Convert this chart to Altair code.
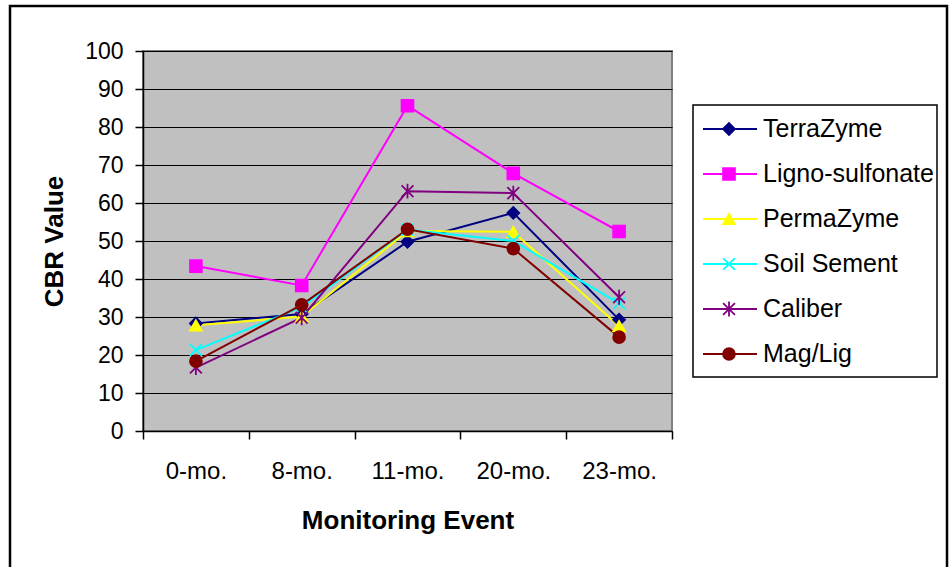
import altair as alt
import pandas as pd

# ---- data ----
events = ["0-mo.", "8-mo.", "11-mo.", "20-mo.", "23-mo."]
series_names = ["TerraZyme", "Ligno-sulfonate", "PermaZyme", "Soil Sement", "Caliber", "Mag/Lig"]
terrazyme = [28.3, 30.8, 49.8, 57.4, 29.3]
ligno = [43.4, 38.3, 85.6, 67.8, 52.5]
permazyme = [27.8, 30.1, 52.6, 52.4, 27.6]
soil_sement = [21.3, 32.6, 53.0, 50.0, 33.6]
caliber = [16.7, 29.8, 63.1, 62.6, 35.2]
mag_lig = [18.4, 33.2, 53.1, 48.0, 24.7]
y_ticks = [0, 10, 20, 30, 40, 50, 60, 70, 80, 90, 100]

# ---- styles ----
colors = ["#000080", "#FF00FF", "#FFFF00", "#00FFFF", "#800080", "#800000"]
X_PATH = "M-1,-1L1,1M-1,1L1,-1"
STAR_PATH = "M-1,-1L1,1M-1,1L1,-1M0,-1.25L0,1.25"
shapes = ["diamond", "square", "triangle-up", X_PATH, STAR_PATH, "circle"]
fills = ["#000080", "#FF00FF", "#FFFF00", "transparent", "transparent", "#800000"]
FONT = "Liberation Sans"

all_vals = [terrazyme, ligno, permazyme, soil_sement, caliber, mag_lig]
rows = []
for name, vals in zip(series_names, all_vals):
    for ev, v in zip(events, vals):
        rows.append({"series": name, "event": ev, "cbr": v})
df = pd.DataFrame(rows)
legend_df = pd.DataFrame({"series": series_names})
one_df = pd.DataFrame({"k": [0]})

color_scale = alt.Scale(domain=series_names, range=colors)
shape_scale = alt.Scale(domain=series_names, range=shapes)
fill_scale = alt.Scale(domain=series_names, range=fills)

x_enc = alt.X(
    "event:N",
    sort=events,
    bandPosition=0.5,
    scale=alt.Scale(type="band", domain=events, paddingInner=0, paddingOuter=0),
    axis=alt.Axis(
        title="Monitoring Event",
        tickBand="extent",
        labelAngle=0,
        labelFont=FONT,
        labelFontSize=24,
        labelColor="black",
        labelPadding=20,
        tickSize=8,
        tickColor="black",
        tickWidth=1.5,
        domainColor="black",
        domainWidth=1.5,
        titleFont=FONT,
        titleFontSize=26,
        titleFontWeight="bold",
        titleColor="black",
        titlePadding=24,
        grid=False,
    ),
)
y_enc = alt.Y(
    "cbr:Q",
    scale=alt.Scale(domain=[0, 100], nice=False),
    axis=alt.Axis(
        title="CBR Value",
        values=y_ticks,
        labelFont=FONT,
        labelFontSize=23,
        labelColor="black",
        labelPadding=12,
        tickSize=8,
        tickColor="black",
        tickWidth=1.5,
        domainColor="black",
        domainWidth=1.5,
        grid=True,
        gridColor="black",
        gridWidth=1,
        gridOpacity=1,
        titleFont=FONT,
        titleFontSize=26,
        titleFontWeight="bold",
        titleColor="black",
        titlePadding=17,
    ),
)

lines = alt.Chart(df).mark_line(strokeWidth=2).encode(
    x=x_enc,
    y=y_enc,
    color=alt.Color("series:N", scale=color_scale, legend=None),
)
points = alt.Chart(df).mark_point(filled=True, opacity=1, fillOpacity=1, strokeWidth=1.8).encode(
    x=x_enc,
    y=y_enc,
    stroke=alt.Stroke("series:N", scale=color_scale, legend=None),
    fill=alt.Fill("series:N", scale=fill_scale, legend=None),
    shape=alt.Shape("series:N", scale=shape_scale, legend=None),
    size=alt.value(140),
)
main = alt.layer(lines, points)

# ---- custom legend (line + marker) ----
leg_y = alt.Y("series:N", sort=series_names,
              scale=alt.Scale(type="point", domain=series_names, range=[78, 303], padding=0),
              axis=None)
box = alt.Chart(one_df).mark_rect(fill="white", stroke="black", strokeWidth=1.5).encode(
    x=alt.value(550), x2=alt.value(794), y=alt.value(54), y2=alt.value(326)
)
leg_rules = alt.Chart(legend_df).mark_rule(strokeWidth=2).encode(
    x=alt.value(560), x2=alt.value(614), y=leg_y,
    color=alt.Color("series:N", scale=color_scale, legend=None),
)
leg_points = alt.Chart(legend_df).mark_point(filled=True, opacity=1, fillOpacity=1, strokeWidth=1.8).encode(
    x=alt.value(586), y=leg_y,
    stroke=alt.Stroke("series:N", scale=color_scale, legend=None),
    fill=alt.Fill("series:N", scale=fill_scale, legend=None),
    shape=alt.Shape("series:N", scale=shape_scale, legend=None),
    size=alt.value(140),
)
leg_text = alt.Chart(legend_df).mark_text(
    align="left", baseline="middle", font=FONT, fontSize=25, color="black"
).encode(x=alt.value(620), y=leg_y, text="series:N")
legend = alt.layer(box, leg_rules, leg_points, leg_text)

frame = alt.Chart(one_df).mark_rect(fill="transparent", stroke="black", strokeWidth=2.5).encode(
    x=alt.value(-133), x2=alt.value(804), y=alt.value(-45), y2=alt.value(540)
)

chart = (
    alt.layer(main, legend, frame)
    .resolve_scale(y="independent")
    .properties(
        width=529,
        height=380,
        autosize=alt.AutoSizeParams(type="none"),
        padding={"left": 143, "top": 51, "right": 278, "bottom": 136},
        background="white",
    )
    .configure_view(fill="#C0C0C0", stroke="#808080", strokeWidth=2)
)

chart.save("out.html", embed_options={"renderer": "svg", "actions": False})
